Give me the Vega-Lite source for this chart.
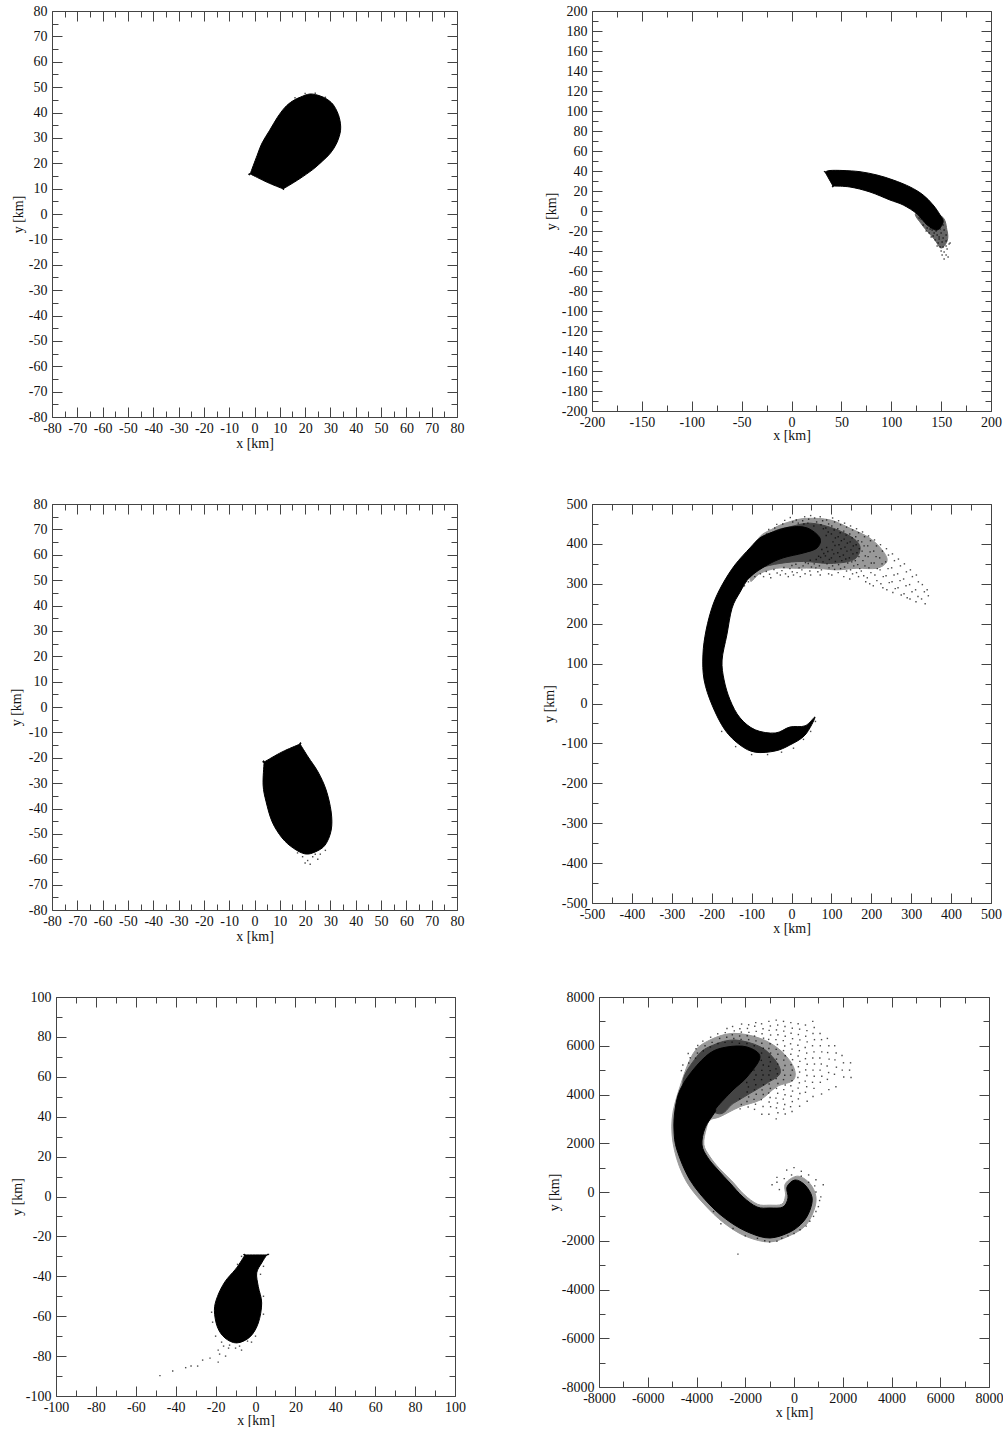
{"$schema":"https://vega.github.io/schema/vega-lite/v6.json","padding":{"left":9,"top":4,"right":0,"bottom":0},"background":"white","columns":2,"spacing":{"column":135,"row":87},"bounds":"flush",
"config":{"view":{"stroke":null},"axis":{"grid":false,"labelFont":"Liberation Serif","titleFont":"Liberation Serif","labelFontSize":14,"titleFontSize":14,"titleFontWeight":"normal","labelColor":"#111","titleColor":"#111","tickColor":"#444","domainColor":"#444","labelOverlap":false,"labelFlush":false,"labelBound":false,"format":"d"}},
"datasets":{
"o1":[{"i":0.5,"x":-1.7,"y":15.8},{"i":1,"x":-1.7,"y":15.8},{"i":2,"x":1,"y":23},{"i":3,"x":3,"y":28},{"i":4,"x":6,"y":33},{"i":5,"x":9,"y":38},{"i":6,"x":12,"y":42},{"i":7,"x":15,"y":44.5},{"i":8,"x":18,"y":46},{"i":9,"x":22,"y":47.3},{"i":10,"x":26,"y":46.5},{"i":11,"x":29,"y":45},{"i":12,"x":31.5,"y":42.5},{"i":13,"x":33.5,"y":38},{"i":14,"x":34,"y":33},{"i":15,"x":32.5,"y":28},{"i":16,"x":30,"y":24},{"i":17,"x":27,"y":21},{"i":18,"x":23,"y":17.5},{"i":19,"x":18,"y":14},{"i":20,"x":14,"y":11.5},{"i":21,"x":11.3,"y":9.9},{"i":21.5,"x":11.3,"y":9.9},{"i":22,"x":5,"y":12.5}],
"s1":[{"x":20,"y":47.5},{"x":24,"y":47.6},{"x":16,"y":45.8},{"x":28,"y":46}],
"o2":[{"i":0.5,"x":33.6,"y":39},{"i":1,"x":33.6,"y":39},{"i":2,"x":38.6,"y":40.5},{"i":3,"x":51.6,"y":40.5},{"i":4,"x":68.7,"y":39.3},{"i":5,"x":85.7,"y":36},{"i":6,"x":102,"y":31},{"i":7,"x":119,"y":24},{"i":8,"x":132,"y":16},{"i":9,"x":142,"y":6},{"i":10,"x":149,"y":-4},{"i":11,"x":152,"y":-11},{"i":12,"x":146,"y":-19},{"i":13,"x":136,"y":-14},{"i":14,"x":126,"y":-3},{"i":15,"x":112,"y":6},{"i":16,"x":98.7,"y":11},{"i":17,"x":78.7,"y":19},{"i":18,"x":58.6,"y":24},{"i":19,"x":41.6,"y":25},{"i":19.5,"x":41.6,"y":25}],
"m2":[{"i":1,"x":125,"y":-2},{"i":2,"x":150,"y":-5},{"i":3,"x":156,"y":-20},{"i":4,"x":156,"y":-30},{"i":5,"x":150,"y":-37},{"i":6,"x":143,"y":-28},{"i":7,"x":131,"y":-14}],
"s2":[{"x":130,"y":-8},{"x":134,"y":-10},{"x":137,"y":-6},{"x":128,"y":-7},{"x":132,"y":-14},{"x":136,"y":-17},{"x":140,"y":-13},{"x":143,"y":-10},{"x":146,"y":-12},{"x":150,"y":-8},{"x":152,"y":-14},{"x":149,"y":-18},{"x":145,"y":-20},{"x":141,"y":-19},{"x":138,"y":-22},{"x":142,"y":-25},{"x":146,"y":-24},{"x":150,"y":-22},{"x":153,"y":-19},{"x":155,"y":-24},{"x":152,"y":-27},{"x":148,"y":-28},{"x":144,"y":-29},{"x":147,"y":-32},{"x":151,"y":-31},{"x":155,"y":-30},{"x":158,"y":-33},{"x":155,"y":-35},{"x":152,"y":-36},{"x":149,"y":-36},{"x":146,"y":-35},{"x":150,"y":-40},{"x":153,"y":-41},{"x":156,"y":-38},{"x":151,"y":-44},{"x":155,"y":-44},{"x":157,"y":-46},{"x":153,"y":-48},{"x":159,"y":-32},{"x":148,"y":-26},{"x":143,"y":-22},{"x":139,"y":-18},{"x":135,"y":-20},{"x":140,"y":-26}],
"o3":[{"i":0.5,"x":3.8,"y":-21.7},{"i":1,"x":3.8,"y":-21.7},{"i":2,"x":10.9,"y":-17.7},{"i":2.5,"x":18,"y":-14.6},{"i":3,"x":18,"y":-14.6},{"i":4,"x":21.2,"y":-19.7},{"i":5,"x":25.1,"y":-25.6},{"i":6,"x":28.3,"y":-32.7},{"i":7,"x":30.3,"y":-41.4},{"i":8,"x":30.3,"y":-48.5},{"i":9,"x":27.9,"y":-54.4},{"i":10,"x":24,"y":-57.1},{"i":11,"x":20,"y":-57.9},{"i":12,"x":15.3,"y":-55.6},{"i":13,"x":10.9,"y":-51.6},{"i":14,"x":7,"y":-45.3},{"i":15,"x":4.6,"y":-37.4},{"i":16,"x":3.4,"y":-30.7}],
"s3":[{"x":19,"y":-59},{"x":21,"y":-60.5},{"x":23,"y":-59},{"x":25,"y":-60},{"x":20,"y":-61.5},{"x":24,"y":-58},{"x":22,"y":-62},{"x":26,"y":-58},{"x":28,"y":-56.5},{"x":17,"y":-57.5}],
"o4":[{"i":1,"x":59,"y":-34},{"i":2,"x":34,"y":-79},{"i":3,"x":-4,"y":-104},{"i":4,"x":-41,"y":-119},{"i":5,"x":-91,"y":-122},{"i":6,"x":-129,"y":-104},{"i":7,"x":-167,"y":-66},{"i":8,"x":-199,"y":-4},{"i":9,"x":-219,"y":59},{"i":10,"x":-222,"y":122},{"i":11,"x":-214,"y":184},{"i":12,"x":-197,"y":247},{"i":13,"x":-174,"y":297},{"i":14,"x":-142,"y":347},{"i":15,"x":-104,"y":390},{"i":16,"x":-79,"y":415},{"i":17,"x":-46,"y":430},{"i":18,"x":-4,"y":442},{"i":19,"x":39,"y":440},{"i":20,"x":71,"y":415},{"i":21,"x":64,"y":390},{"i":22,"x":29,"y":377},{"i":23,"x":-21,"y":365},{"i":24,"x":-61,"y":347},{"i":25,"x":-104,"y":317},{"i":26,"x":-129,"y":279},{"i":27,"x":-149,"y":239},{"i":28,"x":-162,"y":172},{"i":29,"x":-174,"y":109},{"i":30,"x":-169,"y":59},{"i":31,"x":-154,"y":9},{"i":32,"x":-129,"y":-36},{"i":33,"x":-91,"y":-66},{"i":34,"x":-41,"y":-74},{"i":35,"x":-4,"y":-59},{"i":36,"x":34,"y":-56}],
"m4":[{"i":1,"x":-87,"y":406},{"i":2,"x":-45,"y":439},{"i":3,"x":-3,"y":456},{"i":4,"x":38,"y":464},{"i":5,"x":97,"y":460},{"i":6,"x":147,"y":439},{"i":7,"x":197,"y":414},{"i":8,"x":230,"y":381},{"i":9,"x":239,"y":356},{"i":10,"x":214,"y":339},{"i":11,"x":164,"y":339},{"i":12,"x":113,"y":335},{"i":13,"x":63,"y":339},{"i":14,"x":13,"y":339},{"i":15,"x":-37,"y":339},{"i":16,"x":-79,"y":326},{"i":17,"x":-104,"y":310}],
"n4":[{"i":1,"x":-95,"y":397},{"i":2,"x":-45,"y":431},{"i":3,"x":-3,"y":443},{"i":4,"x":47,"y":452},{"i":5,"x":105,"y":439},{"i":6,"x":155,"y":414},{"i":7,"x":172,"y":389},{"i":8,"x":155,"y":360},{"i":9,"x":97,"y":351},{"i":10,"x":30,"y":356},{"i":11,"x":-29,"y":351},{"i":12,"x":-79,"y":339},{"i":13,"x":-108,"y":318}],
"s4":[{"x":-62,"y":425},{"x":-57,"y":436},{"x":-63,"y":331},{"x":-55,"y":324},{"x":-42,"y":440},{"x":-37,"y":449},{"x":-44,"y":336},{"x":-36,"y":327},{"x":-22,"y":450},{"x":-17,"y":459},{"x":-24,"y":333},{"x":-19,"y":341},{"x":-15,"y":325},{"x":3,"y":455},{"x":-3,"y":466},{"x":2,"y":330},{"x":-4,"y":338},{"x":5,"y":322},{"x":1,"y":346},{"x":12,"y":460},{"x":17,"y":452},{"x":14,"y":328},{"x":19,"y":340},{"x":11,"y":349},{"x":33,"y":468},{"x":28,"y":458},{"x":31,"y":450},{"x":26,"y":335},{"x":34,"y":325},{"x":29,"y":345},{"x":35,"y":353},{"x":43,"y":462},{"x":48,"y":471},{"x":41,"y":452},{"x":46,"y":332},{"x":50,"y":342},{"x":42,"y":351},{"x":47,"y":359},{"x":58,"y":465},{"x":63,"y":455},{"x":56,"y":445},{"x":61,"y":340},{"x":66,"y":330},{"x":57,"y":350},{"x":62,"y":361},{"x":68,"y":369},{"x":72,"y":468},{"x":78,"y":458},{"x":74,"y":448},{"x":80,"y":438},{"x":75,"y":335},{"x":70,"y":345},{"x":79,"y":355},{"x":73,"y":366},{"x":81,"y":376},{"x":76,"y":386},{"x":88,"y":460},{"x":93,"y":450},{"x":86,"y":440},{"x":92,"y":430},{"x":87,"y":421},{"x":94,"y":340},{"x":89,"y":350},{"x":95,"y":361},{"x":85,"y":370},{"x":91,"y":381},{"x":88,"y":391},{"x":93,"y":325},{"x":103,"y":465},{"x":108,"y":455},{"x":101,"y":445},{"x":107,"y":435},{"x":100,"y":425},{"x":110,"y":415},{"x":104,"y":405},{"x":109,"y":396},{"x":102,"y":385},{"x":106,"y":375},{"x":100,"y":365},{"x":110,"y":356},{"x":103,"y":345},{"x":108,"y":336},{"x":101,"y":322},{"x":118,"y":458},{"x":123,"y":448},{"x":116,"y":438},{"x":122,"y":428},{"x":117,"y":418},{"x":125,"y":408},{"x":119,"y":398},{"x":124,"y":388},{"x":116,"y":378},{"x":121,"y":368},{"x":126,"y":358},{"x":118,"y":348},{"x":123,"y":338},{"x":117,"y":328},{"x":133,"y":452},{"x":138,"y":442},{"x":131,"y":432},{"x":137,"y":422},{"x":132,"y":412},{"x":140,"y":402},{"x":134,"y":392},{"x":139,"y":382},{"x":130,"y":372},{"x":136,"y":362},{"x":141,"y":352},{"x":133,"y":342},{"x":138,"y":332},{"x":131,"y":318},{"x":148,"y":445},{"x":153,"y":435},{"x":146,"y":425},{"x":152,"y":415},{"x":147,"y":405},{"x":155,"y":395},{"x":149,"y":385},{"x":154,"y":375},{"x":145,"y":365},{"x":151,"y":355},{"x":156,"y":345},{"x":148,"y":335},{"x":153,"y":325},{"x":146,"y":312},{"x":163,"y":438},{"x":168,"y":428},{"x":161,"y":418},{"x":167,"y":408},{"x":162,"y":398},{"x":170,"y":388},{"x":164,"y":378},{"x":169,"y":368},{"x":160,"y":358},{"x":166,"y":348},{"x":171,"y":338},{"x":163,"y":328},{"x":168,"y":318},{"x":178,"y":430},{"x":183,"y":418},{"x":176,"y":405},{"x":182,"y":395},{"x":177,"y":382},{"x":185,"y":370},{"x":179,"y":358},{"x":184,"y":345},{"x":175,"y":332},{"x":181,"y":320},{"x":186,"y":305},{"x":193,"y":420},{"x":198,"y":408},{"x":191,"y":395},{"x":197,"y":380},{"x":192,"y":368},{"x":200,"y":352},{"x":194,"y":340},{"x":199,"y":328},{"x":190,"y":315},{"x":196,"y":300},{"x":208,"y":410},{"x":213,"y":395},{"x":206,"y":382},{"x":212,"y":368},{"x":207,"y":352},{"x":215,"y":338},{"x":209,"y":322},{"x":214,"y":308},{"x":205,"y":295},{"x":223,"y":398},{"x":228,"y":382},{"x":221,"y":365},{"x":227,"y":350},{"x":222,"y":335},{"x":230,"y":318},{"x":224,"y":300},{"x":229,"y":290},{"x":238,"y":388},{"x":243,"y":372},{"x":236,"y":355},{"x":242,"y":338},{"x":237,"y":320},{"x":245,"y":303},{"x":239,"y":285},{"x":253,"y":375},{"x":258,"y":358},{"x":251,"y":340},{"x":257,"y":322},{"x":252,"y":305},{"x":260,"y":288},{"x":254,"y":278},{"x":268,"y":362},{"x":273,"y":345},{"x":266,"y":325},{"x":272,"y":308},{"x":267,"y":290},{"x":275,"y":272},{"x":283,"y":350},{"x":288,"y":330},{"x":281,"y":312},{"x":287,"y":295},{"x":282,"y":275},{"x":290,"y":265},{"x":298,"y":335},{"x":303,"y":318},{"x":296,"y":298},{"x":302,"y":280},{"x":297,"y":262},{"x":313,"y":322},{"x":318,"y":305},{"x":311,"y":285},{"x":317,"y":268},{"x":312,"y":255},{"x":328,"y":298},{"x":333,"y":280},{"x":326,"y":262},{"x":335,"y":250},{"x":340,"y":285},{"x":343,"y":270},{"x":-118,"y":295},{"x":-108,"y":305},{"x":-92,"y":318},{"x":-78,"y":325},{"x":-70,"y":318},{"x":-52,"y":315},{"x":-28,"y":322},{"x":-8,"y":318},{"x":22,"y":318},{"x":48,"y":322},{"x":72,"y":322},{"x":60,"y":-45},{"x":48,"y":-70},{"x":30,"y":-90},{"x":5,"y":-112},{"x":-25,"y":-122},{"x":-60,"y":-128},{"x":-100,"y":-128},{"x":-140,"y":-108},{"x":-175,"y":-70}],
"o5":[{"i":0.5,"x":-5.3,"y":-29.3},{"i":1,"x":-5.3,"y":-29.3},{"i":1.5,"x":5.6,"y":-29.3},{"i":2,"x":5.6,"y":-29.3},{"i":3,"x":3.1,"y":-33.3},{"i":4,"x":0.6,"y":-38.3},{"i":5,"x":1.4,"y":-45.2},{"i":6,"x":3.1,"y":-53.4},{"i":7,"x":1.4,"y":-63.4},{"i":8,"x":-2.8,"y":-70.4},{"i":9,"x":-9.4,"y":-73.4},{"i":10,"x":-15.3,"y":-70.9},{"i":11,"x":-19.1,"y":-65.4},{"i":12,"x":-20.6,"y":-57},{"i":13,"x":-19.1,"y":-50.2},{"i":14,"x":-15.3,"y":-42.7},{"i":15,"x":-10.3,"y":-36.8},{"i":16,"x":-7.8,"y":-33.3}],
"s5":[{"x":-47.9,"y":-89.8},{"x":-41.5,"y":-87.5},{"x":-35,"y":-85.8},{"x":-32.3,"y":-85},{"x":-29,"y":-85},{"x":-26.5,"y":-82},{"x":-22.8,"y":-81},{"x":-18.7,"y":-83},{"x":-18.7,"y":-77},{"x":-18,"y":-79},{"x":-15,"y":-80},{"x":-13.5,"y":-76},{"x":-10,"y":-76},{"x":-8,"y":-75},{"x":-16,"y":-75},{"x":-13,"y":-74.5},{"x":-7,"y":-77},{"x":-4,"y":-72.5},{"x":-2,"y":-73},{"x":0,"y":-70},{"x":-17,"y":-73},{"x":-20,"y":-70},{"x":-21.5,"y":-63},{"x":-22,"y":-58},{"x":4,"y":-59},{"x":4,"y":-50},{"x":6.5,"y":-29},{"x":4,"y":-35},{"x":2.5,"y":-39},{"x":-7,"y":-30},{"x":-9,"y":-34}],
"o6":[{"i":1,"x":-2626,"y":-1231},{"i":2,"x":-1805,"y":-1682},{"i":3,"x":-985,"y":-1887},{"i":4,"x":-164,"y":-1641},{"i":5,"x":369,"y":-1231},{"i":6,"x":656,"y":-738},{"i":7,"x":738,"y":-205},{"i":8,"x":451,"y":287},{"i":9,"x":41,"y":492},{"i":10,"x":-287,"y":205},{"i":11,"x":-246,"y":-246},{"i":12,"x":-451,"y":-615},{"i":13,"x":-985,"y":-656},{"i":14,"x":-1518,"y":-615},{"i":15,"x":-2092,"y":-205},{"i":16,"x":-2626,"y":369},{"i":17,"x":-3118,"y":903},{"i":18,"x":-3528,"y":1395},{"i":19,"x":-3774,"y":1928},{"i":20,"x":-3651,"y":2626},{"i":21,"x":-3241,"y":3282},{"i":22,"x":-3159,"y":3487},{"i":23,"x":-2503,"y":4185},{"i":24,"x":-1928,"y":4718},{"i":25,"x":-1395,"y":5538},{"i":26,"x":-1928,"y":5949},{"i":27,"x":-2749,"y":5949},{"i":28,"x":-3446,"y":5703},{"i":29,"x":-4144,"y":5005},{"i":30,"x":-4677,"y":4185},{"i":31,"x":-4882,"y":3364},{"i":32,"x":-4923,"y":2544},{"i":33,"x":-4800,"y":1723},{"i":34,"x":-4267,"y":492},{"i":35,"x":-3446,"y":-533}],
"m6":[{"i":1,"x":-4676,"y":4321},{"i":2,"x":-4129,"y":5689},{"i":3,"x":-3445,"y":6236},{"i":4,"x":-2487,"y":6509},{"i":5,"x":-1393,"y":6304},{"i":6,"x":-572,"y":5825},{"i":7,"x":-25,"y":5141},{"i":8,"x":-25,"y":4594},{"i":9,"x":-709,"y":4321},{"i":10,"x":-1393,"y":3773},{"i":11,"x":-2214,"y":3500},{"i":12,"x":-3035,"y":3089},{"i":13,"x":-3445,"y":2953},{"i":14,"x":-3600,"y":2600},{"i":15,"x":-3700,"y":1950},{"i":16,"x":-3450,"y":1450},{"i":17,"x":-3050,"y":950},{"i":18,"x":-2550,"y":450},{"i":19,"x":-2050,"y":-100},{"i":20,"x":-1500,"y":-500},{"i":21,"x":-1000,"y":-540},{"i":22,"x":-500,"y":-500},{"i":23,"x":-350,"y":-150},{"i":24,"x":-350,"y":350},{"i":25,"x":150,"y":650},{"i":26,"x":650,"y":350},{"i":27,"x":900,"y":-200},{"i":28,"x":800,"y":-800},{"i":29,"x":450,"y":-1400},{"i":30,"x":-200,"y":-1800},{"i":31,"x":-1000,"y":-2050},{"i":32,"x":-1900,"y":-1850},{"i":33,"x":-2700,"y":-1400},{"i":34,"x":-3500,"y":-700},{"i":35,"x":-4400,"y":400},{"i":36,"x":-4900,"y":1700},{"i":37,"x":-5000,"y":3000}],
"n6":[{"i":1,"x":-4539,"y":4321},{"i":2,"x":-3992,"y":5552},{"i":3,"x":-3308,"y":6031},{"i":4,"x":-2419,"y":6236},{"i":5,"x":-1393,"y":5962},{"i":6,"x":-777,"y":5415},{"i":7,"x":-572,"y":4868},{"i":8,"x":-1119,"y":4457},{"i":9,"x":-1803,"y":4047},{"i":10,"x":-2487,"y":3637},{"i":11,"x":-3171,"y":3226}],
"s6":[{"x":-4620,"y":4980},{"x":-4560,"y":5210},{"x":-4320,"y":5290},{"x":-4260,"y":5510},{"x":-4340,"y":5680},{"x":-4040,"y":5490},{"x":-3960,"y":5700},{"x":-4020,"y":5880},{"x":-3950,"y":6010},{"x":-3720,"y":5790},{"x":-3650,"y":6000},{"x":-3740,"y":6190},{"x":-3430,"y":5950},{"x":-3360,"y":6140},{"x":-3420,"y":6350},{"x":-3120,"y":6090},{"x":-3050,"y":6300},{"x":-3130,"y":6490},{"x":-2830,"y":6140},{"x":-2760,"y":6350},{"x":-2820,"y":6540},{"x":-2750,"y":6710},{"x":-2540,"y":6150},{"x":-2470,"y":6300},{"x":-2530,"y":6450},{"x":-2450,"y":6610},{"x":-2520,"y":6790},{"x":-2240,"y":6100},{"x":-2170,"y":6260},{"x":-2230,"y":6400},{"x":-2160,"y":6560},{"x":-2220,"y":6700},{"x":-2150,"y":6890},{"x":-2230,"y":3820},{"x":-2160,"y":3590},{"x":-2210,"y":3410},{"x":-1930,"y":6090},{"x":-1860,"y":6250},{"x":-1920,"y":6410},{"x":-1850,"y":6550},{"x":-1910,"y":6710},{"x":-1860,"y":6860},{"x":-1940,"y":4490},{"x":-1870,"y":4310},{"x":-1920,"y":4100},{"x":-1860,"y":3900},{"x":-1930,"y":3710},{"x":-1880,"y":3490},{"x":-1630,"y":6000},{"x":-1560,"y":6200},{"x":-1620,"y":6400},{"x":-1550,"y":6590},{"x":-1610,"y":6800},{"x":-1570,"y":6950},{"x":-1640,"y":5000},{"x":-1560,"y":4800},{"x":-1630,"y":4610},{"x":-1570,"y":4400},{"x":-1620,"y":4190},{"x":-1550,"y":4010},{"x":-1640,"y":3800},{"x":-1580,"y":3600},{"x":-1620,"y":3390},{"x":-1330,"y":5700},{"x":-1260,"y":5900},{"x":-1320,"y":6100},{"x":-1250,"y":6310},{"x":-1310,"y":6490},{"x":-1270,"y":6700},{"x":-1330,"y":6900},{"x":-1340,"y":5400},{"x":-1260,"y":5210},{"x":-1320,"y":4990},{"x":-1270,"y":4800},{"x":-1330,"y":4610},{"x":-1250,"y":4400},{"x":-1310,"y":4190},{"x":-1260,"y":4000},{"x":-1340,"y":3790},{"x":-1270,"y":3510},{"x":-1320,"y":3190},{"x":-1030,"y":7000},{"x":-970,"y":6810},{"x":-1020,"y":6630},{"x":-960,"y":6440},{"x":-1040,"y":6260},{"x":-980,"y":6080},{"x":-1030,"y":5890},{"x":-960,"y":5700},{"x":-1020,"y":5530},{"x":-970,"y":5340},{"x":-1040,"y":5160},{"x":-980,"y":4980},{"x":-1030,"y":4800},{"x":-960,"y":4610},{"x":-1020,"y":4430},{"x":-970,"y":4250},{"x":-1040,"y":4060},{"x":-980,"y":3880},{"x":-1020,"y":3690},{"x":-960,"y":3500},{"x":-1030,"y":3190},{"x":-730,"y":7050},{"x":-670,"y":6850},{"x":-720,"y":6650},{"x":-660,"y":6450},{"x":-740,"y":6250},{"x":-680,"y":6050},{"x":-730,"y":5850},{"x":-660,"y":5650},{"x":-720,"y":5450},{"x":-670,"y":5250},{"x":-740,"y":5050},{"x":-680,"y":4850},{"x":-730,"y":4650},{"x":-660,"y":4450},{"x":-720,"y":4250},{"x":-670,"y":4050},{"x":-740,"y":3850},{"x":-680,"y":3650},{"x":-720,"y":3450},{"x":-660,"y":3250},{"x":-730,"y":3000},{"x":-430,"y":7000},{"x":-370,"y":6790},{"x":-420,"y":6600},{"x":-360,"y":6390},{"x":-440,"y":6210},{"x":-380,"y":5990},{"x":-430,"y":5800},{"x":-360,"y":5590},{"x":-420,"y":5410},{"x":-370,"y":5190},{"x":-440,"y":5000},{"x":-380,"y":4790},{"x":-430,"y":4610},{"x":-360,"y":4390},{"x":-420,"y":4200},{"x":-370,"y":3990},{"x":-440,"y":3810},{"x":-380,"y":3590},{"x":-420,"y":3400},{"x":-360,"y":3200},{"x":-130,"y":6950},{"x":-70,"y":6720},{"x":-120,"y":6510},{"x":-60,"y":6290},{"x":-140,"y":6080},{"x":-80,"y":5860},{"x":-130,"y":5650},{"x":-60,"y":5430},{"x":-120,"y":5220},{"x":-70,"y":5000},{"x":-140,"y":4790},{"x":-80,"y":4570},{"x":-130,"y":4360},{"x":-60,"y":4140},{"x":-120,"y":3930},{"x":-70,"y":3710},{"x":-140,"y":3500},{"x":-80,"y":3300},{"x":170,"y":6900},{"x":230,"y":6680},{"x":180,"y":6460},{"x":240,"y":6240},{"x":160,"y":6020},{"x":220,"y":5800},{"x":170,"y":5580},{"x":240,"y":5360},{"x":180,"y":5140},{"x":230,"y":4920},{"x":160,"y":4700},{"x":220,"y":4480},{"x":170,"y":4260},{"x":240,"y":4040},{"x":180,"y":3820},{"x":230,"y":3520},{"x":470,"y":6850},{"x":530,"y":6620},{"x":480,"y":6390},{"x":540,"y":6160},{"x":460,"y":5930},{"x":520,"y":5700},{"x":470,"y":5470},{"x":540,"y":5240},{"x":480,"y":5010},{"x":530,"y":4780},{"x":460,"y":4550},{"x":520,"y":4320},{"x":470,"y":4090},{"x":540,"y":3720},{"x":770,"y":7000},{"x":830,"y":6750},{"x":780,"y":6500},{"x":840,"y":6250},{"x":760,"y":6000},{"x":820,"y":5750},{"x":770,"y":5500},{"x":840,"y":5250},{"x":780,"y":5000},{"x":830,"y":4750},{"x":760,"y":4500},{"x":820,"y":4250},{"x":780,"y":3920},{"x":1070,"y":6500},{"x":1130,"y":6250},{"x":1080,"y":6000},{"x":1140,"y":5750},{"x":1060,"y":5500},{"x":1120,"y":5250},{"x":1070,"y":5000},{"x":1140,"y":4750},{"x":1080,"y":4500},{"x":1130,"y":4020},{"x":1370,"y":6300},{"x":1430,"y":6000},{"x":1380,"y":5720},{"x":1440,"y":5450},{"x":1360,"y":5170},{"x":1420,"y":4900},{"x":1370,"y":4620},{"x":1430,"y":4200},{"x":1670,"y":6000},{"x":1730,"y":5700},{"x":1680,"y":5420},{"x":1740,"y":5120},{"x":1660,"y":4830},{"x":1720,"y":4320},{"x":1970,"y":5600},{"x":2030,"y":5300},{"x":1980,"y":5000},{"x":2040,"y":4720},{"x":2320,"y":5300},{"x":2280,"y":5000},{"x":2340,"y":4700},{"x":-3000,"y":-1300},{"x":-2500,"y":-1500},{"x":-2000,"y":-1800},{"x":-1500,"y":-1900},{"x":-1000,"y":-2050},{"x":-500,"y":-1900},{"x":0,"y":-1700},{"x":500,"y":-1400},{"x":800,"y":-1000},{"x":1000,"y":-600},{"x":1100,"y":-200},{"x":1200,"y":300},{"x":900,"y":500},{"x":600,"y":700},{"x":300,"y":850},{"x":0,"y":1000},{"x":-300,"y":900},{"x":-700,"y":600},{"x":-900,"y":300},{"x":-400,"y":550},{"x":-600,"y":100},{"x":-700,"y":400},{"x":-2300,"y":-2550},{"x":-1200,"y":-2000},{"x":-700,"y":-2020},{"x":-250,"y":-1800},{"x":250,"y":-1550},{"x":650,"y":-1200},{"x":900,"y":-800},{"x":1050,"y":-350},{"x":900,"y":0},{"x":850,"y":250},{"x":600,"y":400},{"x":300,"y":650},{"x":-100,"y":700},{"x":-3800,"y":-100},{"x":-3300,"y":-800}]
},
"concat":[
{"width":405,"height":406,"resolve":{"axis":{"x":"independent","y":"independent"}},"layer":[
{"data":{"name":"o1"},"mark":{"type":"line","fill":"black","stroke":"black","strokeWidth":1,"interpolate":"cardinal-closed"},"encoding":{"order":{"field":"i"},"x":{"field":"x","type":"quantitative","scale":{"domain":[-80,80],"nice":false},"axis":null},"y":{"field":"y","type":"quantitative","scale":{"domain":[-80,80],"nice":false},"axis":null}}},
{"data":{"name":"s1"},"mark":{"type":"square","color":"black","size":2},"encoding":{"x":{"field":"x","type":"quantitative","scale":{"domain":[-80,80],"nice":false},"axis":null},"y":{"field":"y","type":"quantitative","scale":{"domain":[-80,80],"nice":false},"axis":null}}},
{"data":{"name":"o1"},"mark":{"type":"point","opacity":0},"encoding":{"x":{"field":"x","type":"quantitative","scale":{"domain":[-80,80],"nice":false},"axis":{"orient":"bottom","title":"x [km]","labelExpr":"''+datum.value","values":[-80,-70,-60,-50,-40,-30,-20,-10,0,10,20,30,40,50,60,70,80],"tickSize":-10,"labelPadding":14,"titlePadding":1}},"y":{"field":"y","type":"quantitative","scale":{"domain":[-80,80],"nice":false},"axis":{"orient":"left","title":"y [km]","labelExpr":"''+datum.value","values":[-80,-70,-60,-50,-40,-30,-20,-10,0,10,20,30,40,50,60,70,80],"tickSize":-10,"labelPadding":15,"titlePadding":3}}}},
{"data":{"name":"o1"},"mark":{"type":"point","opacity":0},"encoding":{"x":{"field":"x","type":"quantitative","scale":{"domain":[-80,80],"nice":false},"axis":{"orient":"bottom","title":null,"labels":false,"domain":false,"values":[-75,-65,-55,-45,-35,-25,-15,-5,5,15,25,35,45,55,65,75],"tickSize":-6}},"y":{"field":"y","type":"quantitative","scale":{"domain":[-80,80],"nice":false},"axis":{"orient":"left","title":null,"labels":false,"domain":false,"values":[-75,-65,-55,-45,-35,-25,-15,-5,5,15,25,35,45,55,65,75],"tickSize":-6}}}},
{"data":{"name":"o1"},"mark":{"type":"point","opacity":0},"encoding":{"x":{"field":"x","type":"quantitative","scale":{"domain":[-80,80],"nice":false},"axis":{"orient":"top","title":null,"labels":false,"values":[-80,-70,-60,-50,-40,-30,-20,-10,0,10,20,30,40,50,60,70,80],"tickSize":-10}},"y":{"field":"y","type":"quantitative","scale":{"domain":[-80,80],"nice":false},"axis":{"orient":"right","title":null,"labels":false,"values":[-80,-70,-60,-50,-40,-30,-20,-10,0,10,20,30,40,50,60,70,80],"tickSize":-10}}}},
{"data":{"name":"o1"},"mark":{"type":"point","opacity":0},"encoding":{"x":{"field":"x","type":"quantitative","scale":{"domain":[-80,80],"nice":false},"axis":{"orient":"top","title":null,"labels":false,"domain":false,"values":[-75,-65,-55,-45,-35,-25,-15,-5,5,15,25,35,45,55,65,75],"tickSize":-6}},"y":{"field":"y","type":"quantitative","scale":{"domain":[-80,80],"nice":false},"axis":{"orient":"right","title":null,"labels":false,"domain":false,"values":[-75,-65,-55,-45,-35,-25,-15,-5,5,15,25,35,45,55,65,75],"tickSize":-6}}}}
]},
{"width":399,"height":400,"resolve":{"axis":{"x":"independent","y":"independent"}},"layer":[
{"data":{"name":"m2"},"mark":{"type":"line","fill":"#666","stroke":"#666","strokeWidth":1,"interpolate":"cardinal-closed"},"encoding":{"order":{"field":"i"},"x":{"field":"x","type":"quantitative","scale":{"domain":[-200,200],"nice":false},"axis":null},"y":{"field":"y","type":"quantitative","scale":{"domain":[-200,200],"nice":false},"axis":null}}},
{"data":{"name":"o2"},"mark":{"type":"line","fill":"black","stroke":"black","strokeWidth":1,"interpolate":"cardinal-closed"},"encoding":{"order":{"field":"i"},"x":{"field":"x","type":"quantitative","scale":{"domain":[-200,200],"nice":false},"axis":null},"y":{"field":"y","type":"quantitative","scale":{"domain":[-200,200],"nice":false},"axis":null}}},
{"data":{"name":"s2"},"mark":{"type":"square","color":"black","size":2},"encoding":{"x":{"field":"x","type":"quantitative","scale":{"domain":[-200,200],"nice":false},"axis":null},"y":{"field":"y","type":"quantitative","scale":{"domain":[-200,200],"nice":false},"axis":null}}},
{"data":{"name":"o2"},"mark":{"type":"point","opacity":0},"encoding":{"x":{"field":"x","type":"quantitative","scale":{"domain":[-200,200],"nice":false},"axis":{"orient":"bottom","title":"x [km]","labelExpr":"''+datum.value","values":[-200,-150,-100,-50,0,50,100,150,200],"tickSize":-10,"labelPadding":14,"titlePadding":-1}},"y":{"field":"y","type":"quantitative","scale":{"domain":[-200,200],"nice":false},"axis":{"orient":"left","title":"y [km]","labelExpr":"''+datum.value","values":[-200,-180,-160,-140,-120,-100,-80,-60,-40,-20,0,20,40,60,80,100,120,140,160,180,200],"tickSize":-10,"labelPadding":15,"titlePadding":3}}}},
{"data":{"name":"o2"},"mark":{"type":"point","opacity":0},"encoding":{"x":{"field":"x","type":"quantitative","scale":{"domain":[-200,200],"nice":false},"axis":{"orient":"bottom","title":null,"labels":false,"domain":false,"values":[-175,-125,-75,-25,25,75,125,175],"tickSize":-6}},"y":{"field":"y","type":"quantitative","scale":{"domain":[-200,200],"nice":false},"axis":{"orient":"left","title":null,"labels":false,"domain":false,"values":[-190,-170,-150,-130,-110,-90,-70,-50,-30,-10,10,30,50,70,90,110,130,150,170,190],"tickSize":-6}}}},
{"data":{"name":"o2"},"mark":{"type":"point","opacity":0},"encoding":{"x":{"field":"x","type":"quantitative","scale":{"domain":[-200,200],"nice":false},"axis":{"orient":"top","title":null,"labels":false,"values":[-200,-150,-100,-50,0,50,100,150,200],"tickSize":-10}},"y":{"field":"y","type":"quantitative","scale":{"domain":[-200,200],"nice":false},"axis":{"orient":"right","title":null,"labels":false,"values":[-200,-180,-160,-140,-120,-100,-80,-60,-40,-20,0,20,40,60,80,100,120,140,160,180,200],"tickSize":-10}}}},
{"data":{"name":"o2"},"mark":{"type":"point","opacity":0},"encoding":{"x":{"field":"x","type":"quantitative","scale":{"domain":[-200,200],"nice":false},"axis":{"orient":"top","title":null,"labels":false,"domain":false,"values":[-175,-125,-75,-25,25,75,125,175],"tickSize":-6}},"y":{"field":"y","type":"quantitative","scale":{"domain":[-200,200],"nice":false},"axis":{"orient":"right","title":null,"labels":false,"domain":false,"values":[-190,-170,-150,-130,-110,-90,-70,-50,-30,-10,10,30,50,70,90,110,130,150,170,190],"tickSize":-6}}}}
]},
{"width":405,"height":406,"resolve":{"axis":{"x":"independent","y":"independent"}},"layer":[
{"data":{"name":"o3"},"mark":{"type":"line","fill":"black","stroke":"black","strokeWidth":1,"interpolate":"cardinal-closed"},"encoding":{"order":{"field":"i"},"x":{"field":"x","type":"quantitative","scale":{"domain":[-80,80],"nice":false},"axis":null},"y":{"field":"y","type":"quantitative","scale":{"domain":[-80,80],"nice":false},"axis":null}}},
{"data":{"name":"s3"},"mark":{"type":"square","color":"black","size":2},"encoding":{"x":{"field":"x","type":"quantitative","scale":{"domain":[-80,80],"nice":false},"axis":null},"y":{"field":"y","type":"quantitative","scale":{"domain":[-80,80],"nice":false},"axis":null}}},
{"data":{"name":"o3"},"mark":{"type":"point","opacity":0},"encoding":{"x":{"field":"x","type":"quantitative","scale":{"domain":[-80,80],"nice":false},"axis":{"orient":"bottom","title":"x [km]","labelExpr":"''+datum.value","values":[-80,-70,-60,-50,-40,-30,-20,-10,0,10,20,30,40,50,60,70,80],"tickSize":-10,"labelPadding":14,"titlePadding":1}},"y":{"field":"y","type":"quantitative","scale":{"domain":[-80,80],"nice":false},"axis":{"orient":"left","title":"y [km]","labelExpr":"''+datum.value","values":[-80,-70,-60,-50,-40,-30,-20,-10,0,10,20,30,40,50,60,70,80],"tickSize":-10,"labelPadding":15,"titlePadding":5}}}},
{"data":{"name":"o3"},"mark":{"type":"point","opacity":0},"encoding":{"x":{"field":"x","type":"quantitative","scale":{"domain":[-80,80],"nice":false},"axis":{"orient":"bottom","title":null,"labels":false,"domain":false,"values":[-75,-65,-55,-45,-35,-25,-15,-5,5,15,25,35,45,55,65,75],"tickSize":-6}},"y":{"field":"y","type":"quantitative","scale":{"domain":[-80,80],"nice":false},"axis":{"orient":"left","title":null,"labels":false,"domain":false,"values":[-75,-65,-55,-45,-35,-25,-15,-5,5,15,25,35,45,55,65,75],"tickSize":-6}}}},
{"data":{"name":"o3"},"mark":{"type":"point","opacity":0},"encoding":{"x":{"field":"x","type":"quantitative","scale":{"domain":[-80,80],"nice":false},"axis":{"orient":"top","title":null,"labels":false,"values":[-80,-70,-60,-50,-40,-30,-20,-10,0,10,20,30,40,50,60,70,80],"tickSize":-10}},"y":{"field":"y","type":"quantitative","scale":{"domain":[-80,80],"nice":false},"axis":{"orient":"right","title":null,"labels":false,"values":[-80,-70,-60,-50,-40,-30,-20,-10,0,10,20,30,40,50,60,70,80],"tickSize":-10}}}},
{"data":{"name":"o3"},"mark":{"type":"point","opacity":0},"encoding":{"x":{"field":"x","type":"quantitative","scale":{"domain":[-80,80],"nice":false},"axis":{"orient":"top","title":null,"labels":false,"domain":false,"values":[-75,-65,-55,-45,-35,-25,-15,-5,5,15,25,35,45,55,65,75],"tickSize":-6}},"y":{"field":"y","type":"quantitative","scale":{"domain":[-80,80],"nice":false},"axis":{"orient":"right","title":null,"labels":false,"domain":false,"values":[-75,-65,-55,-45,-35,-25,-15,-5,5,15,25,35,45,55,65,75],"tickSize":-6}}}}
]},
{"width":399,"height":399,"resolve":{"axis":{"x":"independent","y":"independent"}},"layer":[
{"data":{"name":"m4"},"mark":{"type":"line","fill":"#999","stroke":"#999","strokeWidth":1,"interpolate":"cardinal-closed"},"encoding":{"order":{"field":"i"},"x":{"field":"x","type":"quantitative","scale":{"domain":[-500,500],"nice":false},"axis":null},"y":{"field":"y","type":"quantitative","scale":{"domain":[-500,500],"nice":false},"axis":null}}},
{"data":{"name":"n4"},"mark":{"type":"line","fill":"#444","stroke":"#444","strokeWidth":1,"interpolate":"cardinal-closed"},"encoding":{"order":{"field":"i"},"x":{"field":"x","type":"quantitative","scale":{"domain":[-500,500],"nice":false},"axis":null},"y":{"field":"y","type":"quantitative","scale":{"domain":[-500,500],"nice":false},"axis":null}}},
{"data":{"name":"o4"},"mark":{"type":"line","fill":"black","stroke":"black","strokeWidth":1,"interpolate":"cardinal-closed"},"encoding":{"order":{"field":"i"},"x":{"field":"x","type":"quantitative","scale":{"domain":[-500,500],"nice":false},"axis":null},"y":{"field":"y","type":"quantitative","scale":{"domain":[-500,500],"nice":false},"axis":null}}},
{"data":{"name":"s4"},"mark":{"type":"square","color":"black","size":2},"encoding":{"x":{"field":"x","type":"quantitative","scale":{"domain":[-500,500],"nice":false},"axis":null},"y":{"field":"y","type":"quantitative","scale":{"domain":[-500,500],"nice":false},"axis":null}}},
{"data":{"name":"o4"},"mark":{"type":"point","opacity":0},"encoding":{"x":{"field":"x","type":"quantitative","scale":{"domain":[-500,500],"nice":false},"axis":{"orient":"bottom","title":"x [km]","labelExpr":"''+datum.value","values":[-500,-400,-300,-200,-100,0,100,200,300,400,500],"tickSize":-10,"labelPadding":14,"titlePadding":0}},"y":{"field":"y","type":"quantitative","scale":{"domain":[-500,500],"nice":false},"axis":{"orient":"left","title":"y [km]","labelExpr":"''+datum.value","values":[-500,-400,-300,-200,-100,0,100,200,300,400,500],"tickSize":-10,"labelPadding":15,"titlePadding":5}}}},
{"data":{"name":"o4"},"mark":{"type":"point","opacity":0},"encoding":{"x":{"field":"x","type":"quantitative","scale":{"domain":[-500,500],"nice":false},"axis":{"orient":"bottom","title":null,"labels":false,"domain":false,"values":[-450,-350,-250,-150,-50,50,150,250,350,450],"tickSize":-6}},"y":{"field":"y","type":"quantitative","scale":{"domain":[-500,500],"nice":false},"axis":{"orient":"left","title":null,"labels":false,"domain":false,"values":[-450,-350,-250,-150,-50,50,150,250,350,450],"tickSize":-6}}}},
{"data":{"name":"o4"},"mark":{"type":"point","opacity":0},"encoding":{"x":{"field":"x","type":"quantitative","scale":{"domain":[-500,500],"nice":false},"axis":{"orient":"top","title":null,"labels":false,"values":[-500,-400,-300,-200,-100,0,100,200,300,400,500],"tickSize":-10}},"y":{"field":"y","type":"quantitative","scale":{"domain":[-500,500],"nice":false},"axis":{"orient":"right","title":null,"labels":false,"values":[-500,-400,-300,-200,-100,0,100,200,300,400,500],"tickSize":-10}}}},
{"data":{"name":"o4"},"mark":{"type":"point","opacity":0},"encoding":{"x":{"field":"x","type":"quantitative","scale":{"domain":[-500,500],"nice":false},"axis":{"orient":"top","title":null,"labels":false,"domain":false,"values":[-450,-350,-250,-150,-50,50,150,250,350,450],"tickSize":-6}},"y":{"field":"y","type":"quantitative","scale":{"domain":[-500,500],"nice":false},"axis":{"orient":"right","title":null,"labels":false,"domain":false,"values":[-450,-350,-250,-150,-50,50,150,250,350,450],"tickSize":-6}}}}
]},
{"width":403,"height":399,"resolve":{"axis":{"x":"independent","y":"independent"}},"layer":[
{"data":{"name":"o5"},"mark":{"type":"line","fill":"black","stroke":"black","strokeWidth":1,"interpolate":"cardinal-closed"},"encoding":{"order":{"field":"i"},"x":{"field":"x","type":"quantitative","scale":{"domain":[-100,100],"nice":false,"range":[4,403]},"axis":null},"y":{"field":"y","type":"quantitative","scale":{"domain":[-100,100],"nice":false},"axis":null}}},
{"data":{"name":"s5"},"mark":{"type":"square","color":"black","size":2},"encoding":{"x":{"field":"x","type":"quantitative","scale":{"domain":[-100,100],"nice":false,"range":[4,403]},"axis":null},"y":{"field":"y","type":"quantitative","scale":{"domain":[-100,100],"nice":false},"axis":null}}},
{"data":{"name":"o5"},"mark":{"type":"point","opacity":0},"encoding":{"x":{"field":"x","type":"quantitative","scale":{"domain":[-100,100],"nice":false,"range":[4,403]},"axis":{"orient":"bottom","title":"x [km]","labelExpr":"''+datum.value","values":[-100,-80,-60,-40,-20,0,20,40,60,80,100],"tickSize":-10,"labelPadding":14,"titlePadding":-1}},"y":{"field":"y","type":"quantitative","scale":{"domain":[-100,100],"nice":false},"axis":{"orient":"left","offset":-4,"title":"y [km]","labelExpr":"''+datum.value","values":[-100,-80,-60,-40,-20,0,20,40,60,80,100],"tickSize":-10,"labelPadding":15,"titlePadding":1}}}},
{"data":{"name":"o5"},"mark":{"type":"point","opacity":0},"encoding":{"x":{"field":"x","type":"quantitative","scale":{"domain":[-100,100],"nice":false,"range":[4,403]},"axis":{"orient":"bottom","title":null,"labels":false,"domain":false,"values":[-90,-70,-50,-30,-10,10,30,50,70,90],"tickSize":-6}},"y":{"field":"y","type":"quantitative","scale":{"domain":[-100,100],"nice":false},"axis":{"orient":"left","offset":-4,"title":null,"labels":false,"domain":false,"values":[-90,-70,-50,-30,-10,10,30,50,70,90],"tickSize":-6}}}},
{"data":{"name":"o5"},"mark":{"type":"point","opacity":0},"encoding":{"x":{"field":"x","type":"quantitative","scale":{"domain":[-100,100],"nice":false,"range":[4,403]},"axis":{"orient":"top","title":null,"labels":false,"values":[-100,-80,-60,-40,-20,0,20,40,60,80,100],"tickSize":-10}},"y":{"field":"y","type":"quantitative","scale":{"domain":[-100,100],"nice":false},"axis":{"orient":"right","title":null,"labels":false,"values":[-100,-80,-60,-40,-20,0,20,40,60,80,100],"tickSize":-10}}}},
{"data":{"name":"o5"},"mark":{"type":"point","opacity":0},"encoding":{"x":{"field":"x","type":"quantitative","scale":{"domain":[-100,100],"nice":false,"range":[4,403]},"axis":{"orient":"top","title":null,"labels":false,"domain":false,"values":[-90,-70,-50,-30,-10,10,30,50,70,90],"tickSize":-6}},"y":{"field":"y","type":"quantitative","scale":{"domain":[-100,100],"nice":false},"axis":{"orient":"right","title":null,"labels":false,"domain":false,"values":[-90,-70,-50,-30,-10,10,30,50,70,90],"tickSize":-6}}}}
]},
{"width":397,"height":390,"resolve":{"axis":{"x":"independent","y":"independent"}},"layer":[
{"data":{"name":"m6"},"mark":{"type":"line","fill":"#999","stroke":"#999","strokeWidth":1,"interpolate":"cardinal-closed"},"encoding":{"order":{"field":"i"},"x":{"field":"x","type":"quantitative","scale":{"domain":[-8000,8000],"nice":false,"range":[7,397]},"axis":null},"y":{"field":"y","type":"quantitative","scale":{"domain":[-8000,8000],"nice":false},"axis":null}}},
{"data":{"name":"n6"},"mark":{"type":"line","fill":"#444","stroke":"#444","strokeWidth":1,"interpolate":"cardinal-closed"},"encoding":{"order":{"field":"i"},"x":{"field":"x","type":"quantitative","scale":{"domain":[-8000,8000],"nice":false,"range":[7,397]},"axis":null},"y":{"field":"y","type":"quantitative","scale":{"domain":[-8000,8000],"nice":false},"axis":null}}},
{"data":{"name":"o6"},"mark":{"type":"line","fill":"black","stroke":"black","strokeWidth":1,"interpolate":"cardinal-closed"},"encoding":{"order":{"field":"i"},"x":{"field":"x","type":"quantitative","scale":{"domain":[-8000,8000],"nice":false,"range":[7,397]},"axis":null},"y":{"field":"y","type":"quantitative","scale":{"domain":[-8000,8000],"nice":false},"axis":null}}},
{"data":{"name":"s6"},"mark":{"type":"square","color":"black","size":2},"encoding":{"x":{"field":"x","type":"quantitative","scale":{"domain":[-8000,8000],"nice":false,"range":[7,397]},"axis":null},"y":{"field":"y","type":"quantitative","scale":{"domain":[-8000,8000],"nice":false},"axis":null}}},
{"data":{"name":"o6"},"mark":{"type":"point","opacity":0},"encoding":{"x":{"field":"x","type":"quantitative","scale":{"domain":[-8000,8000],"nice":false,"range":[7,397]},"axis":{"orient":"bottom","title":"x [km]","labelExpr":"''+datum.value","values":[-8000,-6000,-4000,-2000,0,2000,4000,6000,8000],"tickSize":-10,"labelPadding":14,"titlePadding":0}},"y":{"field":"y","type":"quantitative","scale":{"domain":[-8000,8000],"nice":false},"axis":{"orient":"left","offset":-7,"title":"y [km]","labelExpr":"''+datum.value","values":[-8000,-6000,-4000,-2000,0,2000,4000,6000,8000],"tickSize":-10,"labelPadding":15,"titlePadding":0}}}},
{"data":{"name":"o6"},"mark":{"type":"point","opacity":0},"encoding":{"x":{"field":"x","type":"quantitative","scale":{"domain":[-8000,8000],"nice":false,"range":[7,397]},"axis":{"orient":"bottom","title":null,"labels":false,"domain":false,"values":[-7000,-5000,-3000,-1000,1000,3000,5000,7000],"tickSize":-6}},"y":{"field":"y","type":"quantitative","scale":{"domain":[-8000,8000],"nice":false},"axis":{"orient":"left","offset":-7,"title":null,"labels":false,"domain":false,"values":[-7000,-5000,-3000,-1000,1000,3000,5000,7000],"tickSize":-6}}}},
{"data":{"name":"o6"},"mark":{"type":"point","opacity":0},"encoding":{"x":{"field":"x","type":"quantitative","scale":{"domain":[-8000,8000],"nice":false,"range":[7,397]},"axis":{"orient":"top","title":null,"labels":false,"values":[-8000,-6000,-4000,-2000,0,2000,4000,6000,8000],"tickSize":-10}},"y":{"field":"y","type":"quantitative","scale":{"domain":[-8000,8000],"nice":false},"axis":{"orient":"right","title":null,"labels":false,"values":[-8000,-6000,-4000,-2000,0,2000,4000,6000,8000],"tickSize":-10}}}},
{"data":{"name":"o6"},"mark":{"type":"point","opacity":0},"encoding":{"x":{"field":"x","type":"quantitative","scale":{"domain":[-8000,8000],"nice":false,"range":[7,397]},"axis":{"orient":"top","title":null,"labels":false,"domain":false,"values":[-7000,-5000,-3000,-1000,1000,3000,5000,7000],"tickSize":-6}},"y":{"field":"y","type":"quantitative","scale":{"domain":[-8000,8000],"nice":false},"axis":{"orient":"right","title":null,"labels":false,"domain":false,"values":[-7000,-5000,-3000,-1000,1000,3000,5000,7000],"tickSize":-6}}}}
]}
]}
